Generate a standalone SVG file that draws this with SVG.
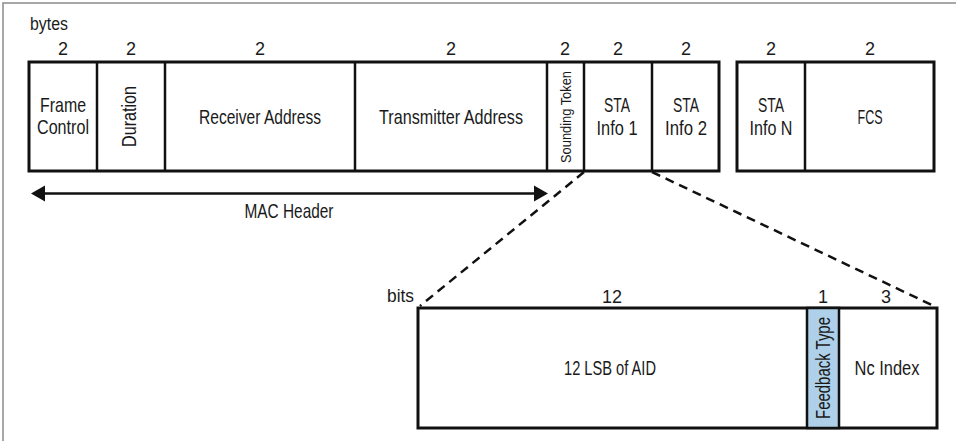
<svg xmlns="http://www.w3.org/2000/svg" width="956" height="441" viewBox="0 0 956 441">
<style>
  text { font-family: "Liberation Sans", Arial, sans-serif; fill: #1a1a1a; }
  .lbl { font-size: 21px; text-anchor: middle; }
  .num { font-size: 18px; text-anchor: middle; }
  .cell { fill: #ffffff; stroke: #111111; stroke-width: 3; }
  .div { stroke: #111111; stroke-width: 2.5; }
  .dash { stroke: #111111; stroke-width: 2.5; stroke-dasharray: 9 6; fill: none; }
</style>
<rect x="0" y="0" width="956" height="441" fill="#ffffff"/>
<path d="M3,441 V3 H956" fill="none" stroke="#8a8a8a" stroke-width="1.5"/>

<text x="30" y="30" style="font-size:18px" textLength="38" lengthAdjust="spacingAndGlyphs">bytes</text>

<g id="frame-top">
  <rect class="cell" x="29" y="62" width="690" height="109"/>
  <line class="div" x1="97" y1="62" x2="97" y2="171"/>
  <line class="div" x1="165" y1="62" x2="165" y2="171"/>
  <line class="div" x1="355" y1="62" x2="355" y2="171"/>
  <line class="div" x1="547" y1="62" x2="547" y2="171"/>
  <line class="div" x1="584" y1="62" x2="584" y2="171"/>
  <line class="div" x1="652" y1="62" x2="652" y2="171"/>
</g>

<g id="frame-top-end">
  <rect class="cell" x="737" y="62" width="197" height="109"/>
  <line class="div" x1="805" y1="62" x2="805" y2="171"/>
</g>

<g id="frame-control">
  <text class="num" x="63" y="55">2</text>
  <text class="lbl" x="63" y="112" textLength="46" lengthAdjust="spacingAndGlyphs">Frame</text>
  <text class="lbl" x="63" y="134" textLength="52" lengthAdjust="spacingAndGlyphs">Control</text>
</g>
<g id="duration">
  <text class="num" x="131" y="55">2</text>
  <text class="lbl" transform="translate(136,116.5) rotate(-90)" textLength="61" lengthAdjust="spacingAndGlyphs">Duration</text>
</g>
<g id="receiver-address">
  <text class="num" x="260" y="55">2</text>
  <text class="lbl" x="260" y="124" textLength="122" lengthAdjust="spacingAndGlyphs">Receiver Address</text>
</g>
<g id="transmitter-address">
  <text class="num" x="451" y="55">2</text>
  <text class="lbl" x="451" y="124" textLength="144" lengthAdjust="spacingAndGlyphs">Transmitter Address</text>
</g>
<g id="sounding-token">
  <text class="num" x="565" y="55">2</text>
  <text class="lbl" style="font-size:15px" transform="translate(571,117) rotate(-90)" textLength="92" lengthAdjust="spacingAndGlyphs">Sounding Token</text>
</g>
<g id="sta-info-1">
  <text class="num" x="618" y="55">2</text>
  <text class="lbl" x="617" y="112" textLength="26" lengthAdjust="spacingAndGlyphs">STA</text>
  <text class="lbl" x="617" y="135" textLength="41" lengthAdjust="spacingAndGlyphs">Info 1</text>
</g>
<g id="sta-info-2">
  <text class="num" x="686" y="55">2</text>
  <text class="lbl" x="686" y="112" textLength="26" lengthAdjust="spacingAndGlyphs">STA</text>
  <text class="lbl" x="686" y="135" textLength="42" lengthAdjust="spacingAndGlyphs">Info 2</text>
</g>
<g id="sta-info-n">
  <text class="num" x="771" y="55">2</text>
  <text class="lbl" x="771" y="112" textLength="26" lengthAdjust="spacingAndGlyphs">STA</text>
  <text class="lbl" x="771" y="135" textLength="43" lengthAdjust="spacingAndGlyphs">Info N</text>
</g>
<g id="fcs">
  <text class="num" x="870" y="55">2</text>
  <text class="lbl" x="870" y="124" textLength="25" lengthAdjust="spacingAndGlyphs">FCS</text>
</g>

<g id="mac-header">
  <text class="lbl" x="289" y="218" textLength="89" lengthAdjust="spacingAndGlyphs">MAC Header</text>
</g>

<text x="387" y="302" style="font-size:18px" textLength="27" lengthAdjust="spacingAndGlyphs">bits</text>

<g id="frame-bottom">
  <rect class="cell" x="418" y="308" width="519" height="120"/>
  <rect x="807" y="308" width="32" height="120" fill="#aed0e8" stroke="#111111" stroke-width="2.5"/>
</g>
<g id="lsb-aid">
  <text class="num" x="612" y="303">12</text>
  <text class="lbl" x="610" y="375" textLength="92" lengthAdjust="spacingAndGlyphs">12 LSB of AID</text>
</g>
<g id="feedback-type">
  <text class="num" x="823" y="303">1</text>
  <text class="lbl" transform="translate(830,368) rotate(-90)" textLength="102" lengthAdjust="spacingAndGlyphs">Feedback Type</text>
</g>
<g id="nc-index">
  <text class="num" x="886" y="303">3</text>
  <text class="lbl" x="887" y="375" textLength="65" lengthAdjust="spacingAndGlyphs">Nc Index</text>
</g>

<g id="connectors">
  <line x1="45" y1="193.5" x2="535" y2="193.5" stroke="#111111" stroke-width="2.5"/>
  <path d="M31,193.5 L45,185.5 L45,201.5 Z" fill="#111111"/>
  <path d="M548,193.5 L534,185.5 L534,201.5 Z" fill="#111111"/>
  <line class="dash" x1="584" y1="172" x2="420" y2="306"/>
  <line class="dash" x1="652" y1="172" x2="936" y2="307"/>
</g>
</svg>
